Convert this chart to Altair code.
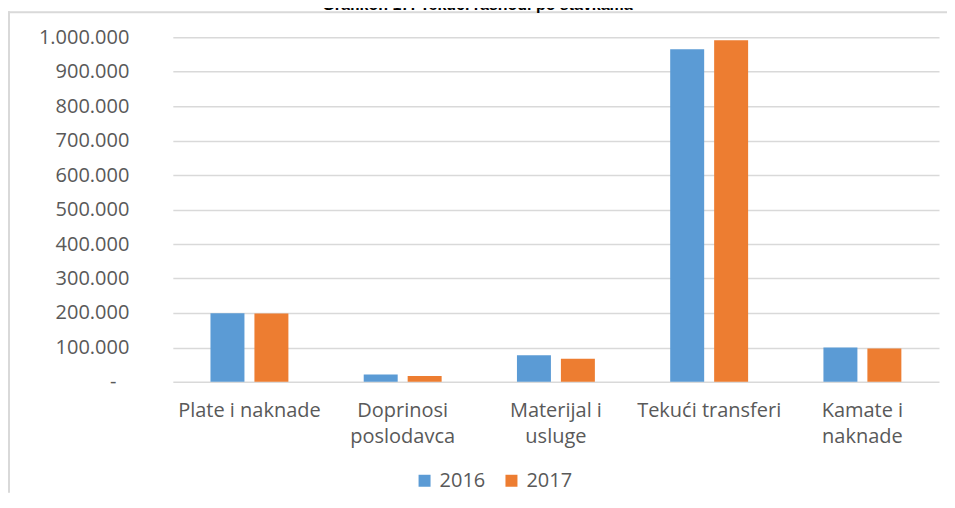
import altair as alt
import pandas as pd

# ---- data ----
categories = ["Plate i naknade", "Doprinosi poslodavca", "Materijal i usluge",
              "Tekući transferi", "Kamate i naknade"]
wrapped_labels = [["Plate i naknade"], ["Doprinosi", "poslodavca"], ["Materijal i", "usluge"],
                  ["Tekući transferi"], ["Kamate i", "naknade"]]
years = ["2016", "2017"]
values_2016 = [199000, 21000, 77000, 965000, 99500]
values_2017 = [198000, 17000, 67000, 991000, 96500]
y_ticks = [0, 100000, 200000, 300000, 400000, 500000, 600000, 700000, 800000, 900000, 1000000]
title_text = "Grafikon 17: Tekući rashodi po stavkama"
colors = ["#5B9BD5", "#ED7D31"]

rows = []
for c, a, b in zip(categories, values_2016, values_2017):
    rows.append({"category": c, "year": years[0], "value": a})
    rows.append({"category": c, "year": years[1], "value": b})
df = pd.DataFrame(rows)

# multi-line x labels
expr = "datum.label"
for c, w in reversed(list(zip(categories, wrapped_labels))):
    arr = "[" + ",".join("'" + s + "'" for s in w) + "]"
    expr = "datum.label == '" + c + "' ? " + arr + " : (" + expr + ")"

FONT = "Open Sans"
FS = 20
GRAY = "#595959"
FRAME = "#d9d9d9"

bars = alt.Chart(df).mark_bar().encode(
    x=alt.X("category:N", sort=categories, title=None,
            scale=alt.Scale(paddingInner=0.4915, paddingOuter=0.2457),
            axis=alt.Axis(labelExpr=expr, labelAngle=0, labelFont=FONT, labelFontSize=FS,
                          labelColor=GRAY, labelLineHeight=26, labelPadding=19,
                          ticks=False, domain=False, grid=False)),
    xOffset=alt.XOffset("year:N", sort=years,
                        scale=alt.Scale(paddingInner=0.227, paddingOuter=0)),
    y=alt.Y("value:Q", title=None,
            scale=alt.Scale(domain=[0, 1000000], nice=False),
            axis=alt.Axis(values=y_ticks,
                          labelExpr="datum.value == 0 ? '-' : replace(format(datum.value, ',d'), /,/g, '.')",
                          labelFont=FONT, labelFontSize=FS, labelColor=GRAY,
                          labelPadding={"condition": {"test": "datum.value == 0", "value": 57}, "value": 44},
                          ticks=False, domain=False,
                          grid=True, gridColor=FRAME, gridWidth=1.5)),
    color=alt.Color("year:N", sort=years, title=None,
                    scale=alt.Scale(domain=years, range=colors),
                    legend=alt.Legend(orient="none", legendX=242, legendY=434,
                                      direction="horizontal", symbolType="square",
                                      symbolSize=144, symbolStrokeWidth=0,
                                      labelFont=FONT, labelFontSize=FS, labelColor=GRAY,
                                      labelOffset=5, columnPadding=16, padding=0)),
)

# outer chart frame: only its top and left edges lie inside the window
frame_top = alt.Chart(pd.DataFrame({"k": [0]})).mark_rule(
    stroke=FRAME, strokeWidth=2
).encode(x=alt.value(-165), x2=alt.value(775), y=alt.value(-25))
frame_left = alt.Chart(pd.DataFrame({"k": [0]})).mark_rule(
    stroke=FRAME, strokeWidth=2
).encode(x=alt.value(-164), y=alt.value(-26), y2=alt.value(456))

title = alt.Chart(pd.DataFrame({"t": [title_text]})).mark_text(
    font="Liberation Sans", fontSize=16, fontWeight="bold", color="#000000",
    align="center", baseline="alphabetic"
).encode(text="t:N", x=alt.value(305), y=alt.value(-27))

chart = alt.layer(frame_top, frame_left, bars, title).properties(
    width=767, height=345,
    autosize=alt.AutoSizeParams(type="none"),
    padding={"left": 165, "top": 29, "right": 8, "bottom": 111},
).configure_view(stroke=None)

chart.save("out.html", embed_options={"renderer": "svg", "actions": False})
